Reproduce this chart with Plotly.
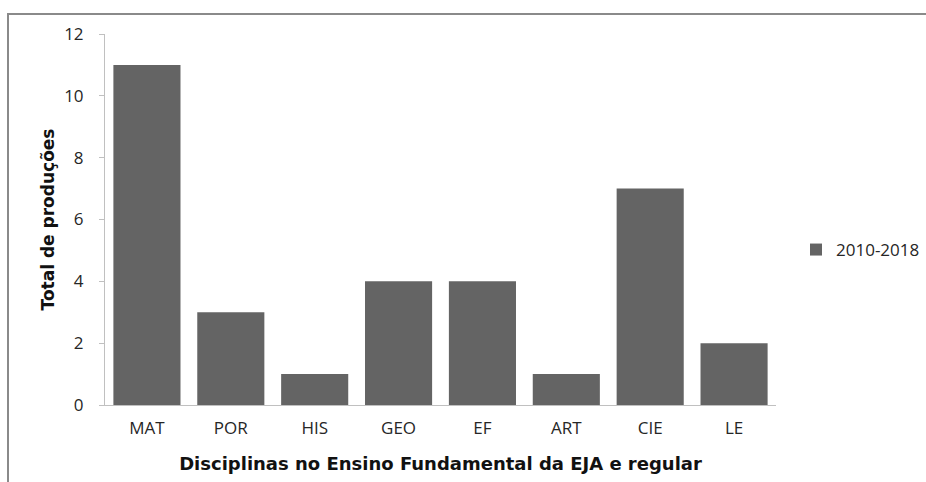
import plotly.graph_objects as go

disciplinas = ["MAT", "POR", "HIS", "GEO", "EF", "ART", "CIE", "LE"]
total_producoes = [11, 3, 1, 4, 4, 1, 7, 2]
serie = "2010-2018"
y_ticks = [0, 2, 4, 6, 8, 10, 12]

L, T, R, B = 105, 34, 150, 77
W, H = 926, 482
pw, ph = W - L - R, H - T - B

title_font = dict(family="DejaVu Sans, sans-serif", size=17, color="#111", weight="bold")
tick_font = dict(family="Open Sans, sans-serif", size=17, color="#262626")

fig = go.Figure()
fig.add_trace(go.Bar(
    x=disciplinas, y=total_producoes, name=serie,
    marker=dict(color="#646464", line=dict(width=0)),
    showlegend=True,
))

fig.update_layout(
    width=W, height=H,
    margin=dict(l=L, r=R, t=T, b=B, autoexpand=False),
    paper_bgcolor="white", plot_bgcolor="white",
    bargap=0.2,
    font=tick_font,
    showlegend=True,
    legend=dict(x=(796 - L) / pw, y=(405 - 250) / ph, xanchor="left", yanchor="middle",
                font=tick_font, itemwidth=30,
                bgcolor="rgba(0,0,0,0)"),
    xaxis=dict(
        showline=True, linecolor="#c0c0c0", linewidth=1,
        ticks="", showgrid=False, zeroline=False,
        ticklabelstandoff=8,
        title=dict(text="Disciplinas no Ensino Fundamental da EJA e regular",
                   font=dict(title_font, size=18), standoff=18),
        tickfont=tick_font,
    ),
    yaxis=dict(
        range=[0, 12], tickvals=y_ticks, showline=True, linecolor="#c0c0c0", linewidth=1,
        ticks="outside", ticklen=5, tickcolor="#c0c0c0",
        showgrid=False, zeroline=False,
        ticklabelstandoff=12,
        title=dict(text="Total de produções", font=title_font, standoff=5),
        tickfont=tick_font,
    ),
)

# outer chart frame (left and top edges visible)
fig.add_shape(type="rect", xref="paper", yref="paper",
              x0=(8 - L) / pw, x1=(W + 60 - L) / pw,
              y0=(405 - (H + 60)) / ph, y1=(405 - 14) / ph,
              line=dict(color="#8a8a8a", width=2), fillcolor="rgba(0,0,0,0)", layer="below")

fig.write_html("out.html")
